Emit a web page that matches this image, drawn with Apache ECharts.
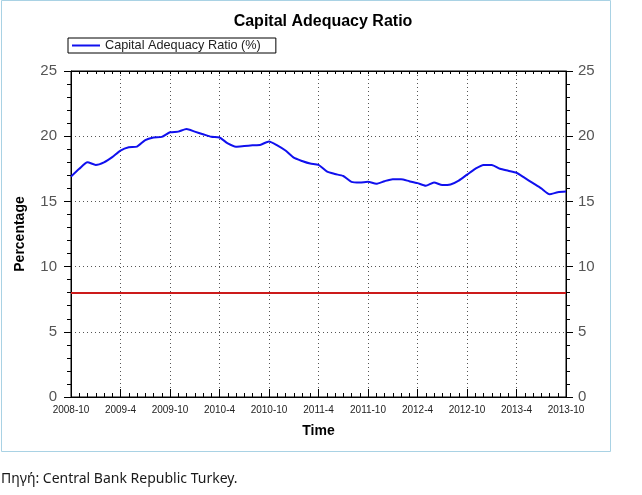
<!DOCTYPE html>
<html>
<head>
<meta charset="utf-8">
<script src="https://cdn.jsdelivr.net/npm/echarts@6/dist/echarts.min.js"></script>
<style>
  html, body { margin: 0; padding: 0; background: #fff; }
  #chart { width: 642px; height: 495px; }
</style>
</head>
<body>
<div id="chart"></div>
<script>
// monthly categories, 2008-10 .. 2013-10
var months = [
  '2008-10', '2008-11', '2008-12',
  '2009-1', '2009-2', '2009-3', '2009-4', '2009-5', '2009-6', '2009-7', '2009-8', '2009-9', '2009-10', '2009-11', '2009-12',
  '2010-1', '2010-2', '2010-3', '2010-4', '2010-5', '2010-6', '2010-7', '2010-8', '2010-9', '2010-10', '2010-11', '2010-12',
  '2011-1', '2011-2', '2011-3', '2011-4', '2011-5', '2011-6', '2011-7', '2011-8', '2011-9', '2011-10', '2011-11', '2011-12',
  '2012-1', '2012-2', '2012-3', '2012-4', '2012-5', '2012-6', '2012-7', '2012-8', '2012-9', '2012-10', '2012-11', '2012-12',
  '2013-1', '2013-2', '2013-3', '2013-4', '2013-5', '2013-6', '2013-7', '2013-8', '2013-9', '2013-10'
]

// capital adequacy ratio (%)
var ratio = [
  16.9, 17.5, 18.0, 17.8, 18.0, 18.4, 18.9, 19.15, 19.2, 19.7,
  19.9, 19.95, 20.3, 20.35, 20.55, 20.35, 20.15, 19.95, 19.9, 19.45,
  19.2, 19.25, 19.3, 19.35, 19.6, 19.3, 18.9, 18.35, 18.1, 17.9,
  17.8, 17.3, 17.1, 16.95, 16.5, 16.45, 16.5, 16.35, 16.55, 16.7,
  16.7, 16.55, 16.4, 16.2, 16.45, 16.25, 16.3, 16.6, 17.05, 17.5,
  17.8, 17.8, 17.5, 17.35, 17.2, 16.8, 16.4, 16.0, 15.55, 15.7, 15.75
]

// legal minimum
var minRatio = 8

var yTicks = [0, 5, 10, 15, 20, 25]

var textFont = '"Liberation Sans", Arial, sans-serif'

var myChart = echarts.init(document.getElementById('chart'))

var option = {
  backgroundColor: '#fff',
  animation: false,
  title: {
    text: 'Capital Adequacy Ratio',
    left: 318,
    textAlign: 'center',
    top: 9,
    textStyle: { fontSize: 16, fontWeight: 'bold', color: '#000', fontFamily: textFont }
  },
  legend: {
    data: [{ name: 'Capital Adequacy Ratio (%)', icon: 'rect' }],
    left: 68,
    top: 38,
    orient: 'horizontal',
    borderColor: '#000',
    borderWidth: 1,
    padding: [1, 15, 1, 4],
    itemWidth: 28,
    itemHeight: 2,
    itemGap: 7,
    textStyle: { fontSize: 12.7, color: '#222', fontFamily: textFont, padding: [0, 0, 0, 0] }
  },
  grid: {
    left: 71,
    right: 76,
    top: 71,
    bottom: 98,
    show: true,
    borderColor: '#000',
    borderWidth: 1,
    backgroundColor: 'transparent'
  },
  xAxis: [
    {
      type: 'category',
      data: months,
      boundaryGap: false,
      position: 'bottom',
      name: 'Time',
      nameLocation: 'middle',
      nameGap: 27,
      nameTextStyle: { fontSize: 14, fontWeight: 'bold', color: '#000', fontFamily: textFont },
      axisLine: { show: true, lineStyle: { color: '#000', width: 1 } },
      axisTick: { show: true, interval: 0, inside: true, length: 4, lineStyle: { color: '#000' } },
      axisLabel: { interval: 5, margin: 8, fontSize: 10, color: '#222', fontFamily: textFont, showMaxLabel: true },
      splitLine: { show: true, interval: 5, lineStyle: { color: '#555', type: [1, 3], width: 1 } }
    },
    {
      type: 'category',
      data: months,
      boundaryGap: false,
      position: 'bottom',
      axisLine: { show: false },
      axisTick: { show: true, interval: 5, inside: true, length: 8, lineStyle: { color: '#000' } },
      axisLabel: { show: false },
      splitLine: { show: false }
    },
    {
      type: 'category',
      data: months,
      boundaryGap: false,
      position: 'top',
      axisLine: { show: true, lineStyle: { color: '#000' } },
      axisTick: { show: true, interval: 0, inside: true, length: 3, lineStyle: { color: '#000' } },
      axisLabel: { show: false },
      splitLine: { show: false }
    }
  ],
  yAxis: [
    {
      type: 'value',
      min: yTicks[0],
      max: yTicks[yTicks.length - 1],
      interval: 5,
      position: 'left',
      name: 'Percentage',
      nameLocation: 'middle',
      nameGap: 44,
      nameRotate: 90,
      nameTextStyle: { fontSize: 14, fontWeight: 'bold', color: '#000', fontFamily: textFont },
      axisLine: { show: true, lineStyle: { color: '#000' } },
      axisTick: { show: true, length: 7, lineStyle: { color: '#000' } },
      minorTick: { show: true, splitNumber: 5, length: 4, lineStyle: { color: '#000' } },
      axisLabel: { margin: 14, fontSize: 15, color: '#555', fontFamily: textFont },
      splitLine: { show: true, lineStyle: { color: '#555', type: [1, 3], width: 1 } }
    },
    {
      type: 'value',
      min: yTicks[0],
      max: yTicks[yTicks.length - 1],
      interval: 5,
      position: 'right',
      axisLine: { show: true, lineStyle: { color: '#000' } },
      axisTick: { show: true, length: 7, lineStyle: { color: '#000' } },
      minorTick: { show: true, splitNumber: 5, length: 4, lineStyle: { color: '#000' } },
      axisLabel: { margin: 12, fontSize: 15, color: '#555', fontFamily: textFont },
      splitLine: { show: false }
    }
  ],
  series: [
    {
      name: 'Capital Adequacy Ratio (%)',
      type: 'line',
      xAxisIndex: 0,
      yAxisIndex: 0,
      symbol: 'none',
      smooth: 0.2,
      color: '#1010ee',
      lineStyle: { color: '#1010ee', width: 2 },
      data: ratio
    },
    {
      name: 'Minimum',
      type: 'line',
      xAxisIndex: 0,
      yAxisIndex: 0,
      data: [],
      markLine: {
        silent: true,
        symbol: 'none',
        label: { show: false },
        lineStyle: { color: '#cc1a1a', width: 2, type: 'solid' },
        data: [{ yAxis: minRatio }]
      }
    }
  ],
  graphic: [
    {
      type: 'rect',
      shape: { x: 1.5, y: 0.5, width: 609, height: 451 },
      style: { fill: 'none', stroke: '#a9d2e4', lineWidth: 1 },
      silent: true
    },
    {
      type: 'text',
      left: 1,
      top: 472,
      style: {
        text: 'Πηγή: Central Bank Republic Turkey.',
        font: '14px "Noto Sans", "Open Sans", sans-serif',
        fill: '#1a1a1a'
      }
    }
  ]
}

myChart.setOption(option)
</script>
</body>
</html>
